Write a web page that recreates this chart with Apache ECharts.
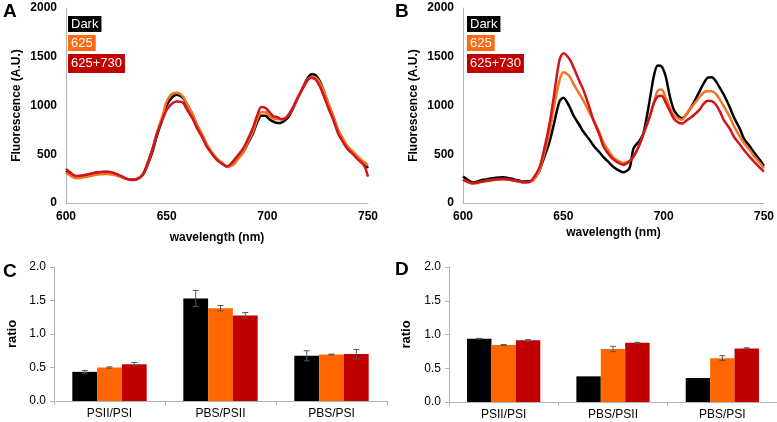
<!DOCTYPE html>
<html><head><meta charset="utf-8">
<script src="https://cdn.jsdelivr.net/npm/echarts@6/dist/echarts.min.js"></script>
<style>html,body{margin:0;padding:0;background:#fff}#c{width:777px;height:422px}</style>
</head><body><div id="c"></div>
<script>
// ---- Data ----
const wavelengths = [600,603,605,608,610,613,615,618,620,623,625,628,630,633,635,638,640,643,645,648,650,653,655,658,660,663,665,668,670,673,675,678,680,683,685,688,690,693,695,697,699,701,703,705,707,709,711,713,715,718,720,722,724,726,728,730,733,735,738,740,743,745,748,750];
const aDark = [330,285,265,268,278,292,302,308,310,303,292,268,250,240,245,285,365,530,680,870,1000,1090,1110,1080,1010,900,800,680,590,500,450,400,375,400,450,520,600,720,830,895,895,860,835,820,825,850,900,980,1070,1200,1280,1320,1310,1250,1150,1030,870,750,630,570,510,465,410,360];
const a625 = [310,270,255,260,268,280,290,295,298,292,282,262,245,238,245,290,375,555,710,900,1040,1125,1130,1095,1020,905,805,690,600,505,455,405,370,390,440,520,610,740,860,930,930,895,865,860,860,870,915,985,1070,1190,1265,1290,1285,1235,1150,1040,880,760,645,580,520,475,420,385];
const a730 = [350,300,278,282,290,305,315,320,322,312,298,270,248,236,240,290,380,560,700,860,955,1025,1040,1030,960,860,770,660,575,490,440,395,375,430,480,560,640,780,900,985,975,935,890,880,860,870,920,990,1080,1190,1260,1285,1265,1200,1100,990,840,720,610,550,490,445,385,270];
const bDark = [272,230,211,225,238,248,255,262,265,255,245,230,221,222,238,330,442,620,782,1037,1080,990,900,800,730,650,590,520,470,410,370,330,315,360,560,640,720,1050,1290,1410,1400,1300,1100,960,900,870,900,960,1030,1150,1230,1285,1290,1250,1180,1110,980,880,760,660,580,520,440,380];
const b625 = [240,210,198,210,220,230,235,240,240,238,232,222,212,215,235,330,470,720,950,1250,1340,1300,1225,1120,1050,930,850,720,620,520,465,425,410,430,475,600,710,880,1020,1150,1165,1080,980,900,870,855,900,960,1010,1090,1135,1145,1145,1120,1060,990,880,790,680,615,540,480,410,355];
const b730 = [240,212,204,212,221,230,238,244,248,240,231,220,211,215,255,360,510,800,1054,1460,1537,1480,1395,1250,1160,980,850,700,580,490,445,405,392,430,476,600,714,880,1020,1090,1100,1030,950,867,830,815,840,870,900,960,1020,1050,1045,1010,940,850,760,680,600,544,470,425,360,323];

const ratioCats = ['PSII/PSI','PBS/PSII','PBS/PSI'];
const cDark = [0.435,1.53,0.675], cDarkErr = [0.02,0.12,0.075];
const c625  = [0.50,1.385,0.695], c625Err  = [0.01,0.04,0.005];
const c730  = [0.55,1.275,0.70], c730Err  = [0.025,0.045,0.07];
const dDark = [0.938,0.38,0.355], dDarkErr = [0.005,0,0];
const d625  = [0.845,0.785,0.65], d625Err  = [0.005,0.04,0.035];
const d730  = [0.913,0.878,0.794], d730Err  = [0.01,0.006,0.008];

const names = ['Dark','625','625+730'];
const lineColors = ['#000000','#F27420','#D0161C'];
const barColors = ['#000000','#FF6600','#C00000'];
const legendColors = ['#000000','#FF6A10','#C00000'];

// ---- Chart ----
const FONT = 'Liberation Sans, Arial, sans-serif';
const axisLineGray = {show:true, lineStyle:{color:'#B4B4B4', width:1}};
const chart = echarts.init(document.getElementById('c'));

function specAxisX(gi, nameGap){
  return {type:'value', gridIndex:gi, min:600, max:750, interval:50,
    name:'wavelength (nm)', nameLocation:'middle', nameGap:nameGap,
    nameTextStyle:{fontFamily:FONT, fontWeight:'bold', fontSize:12, color:'#000'},
    axisLine:axisLineGray, axisTick:{show:false}, splitLine:{show:false},
    axisLabel:{fontFamily:FONT, fontWeight:'bold', fontSize:12, color:'#000', margin:8}};
}
function specAxisY(gi){
  return {type:'value', gridIndex:gi, min:0, max:2000, interval:500,
    name:'Fluorescence (A.U.)', nameLocation:'middle', nameGap:43,
    nameTextStyle:{fontFamily:FONT, fontWeight:'bold', fontSize:12, color:'#000'},
    axisLine:axisLineGray, axisTick:{show:false}, splitLine:{show:false},
    axisLabel:{fontFamily:FONT, fontWeight:'bold', fontSize:12, color:'#000', margin:9,
      formatter:v=>String(v)}};
}
function catAxis(gi){
  return {type:'category', gridIndex:gi, data:ratioCats,
    axisLine:axisLineGray, axisTick:{show:true, length:4, lineStyle:{color:'#B4B4B4'}},
    axisLabel:{fontFamily:FONT, fontSize:12, color:'#000', margin:7}};
}
function ratioAxis(gi, gap){
  return {type:'value', gridIndex:gi, min:0, max:2, interval:0.5,
    name:'ratio', nameLocation:'middle', nameGap:gap,
    nameTextStyle:{fontFamily:FONT, fontWeight:'bold', fontSize:13, color:'#000'},
    axisLine:axisLineGray, axisTick:{show:true, length:4, lineStyle:{color:'#B4B4B4'}},
    splitLine:{show:false},
    axisLabel:{fontFamily:FONT, fontSize:12, color:'#000', margin:8, formatter:v=>v.toFixed(1)}};
}
function lineSeries(gi, arr, k){
  return {type:'line', name:names[k], xAxisIndex:gi, yAxisIndex:gi,
    data: wavelengths.map((w,i)=>[w, arr[i]]), showSymbol:false, smooth:0.3,
    lineStyle:{color:lineColors[k], width:2.5}, itemStyle:{color:lineColors[k]}, z:2+k};
}
function barSeries(gi, arr, k){
  return {type:'bar', name:names[k], xAxisIndex:gi, yAxisIndex:gi, data:arr,
    barGap:'0%', barCategoryGap:'33%', itemStyle:{color:barColors[k]}};
}
function errSeries(gi, vals, errs, k){
  return {type:'custom', xAxisIndex:gi, yAxisIndex:gi, z:10,
    data: vals.map((v,i)=>[i, v, errs[i]]),
    encode:{x:0, y:1},
    renderItem:function(params, api){
      const ci = api.value(0), v = api.value(1), e = api.value(2);
      if (!e) return null;
      const catW = api.size([1,0])[0];
      const bw = catW*(1-0.33)/3;
      const p = api.coord([ci, v]);
      const x = p[0] + (k-1)*bw;
      const yt = api.coord([ci, v+e])[1];
      const yb = api.coord([ci, v-e])[1];
      const st = {stroke:'#555', lineWidth:1};
      return {type:'group', children:[
        {type:'line', shape:{x1:x,y1:yt,x2:x,y2:yb}, style:st},
        {type:'line', shape:{x1:x-3,y1:yt,x2:x+3,y2:yt}, style:st},
        {type:'line', shape:{x1:x-3,y1:yb,x2:x+3,y2:yb}, style:st}
      ]};
    }};
}
function legendSpec(left){
  return {orient:'vertical', left:left, top:11, itemWidth:0, itemHeight:0, itemGap:3,
    selectedMode:false,
    data: names.map((n,k)=>({name:n, icon:'rect',
      textStyle:{color:'#fff', backgroundColor:legendColors[k], fontFamily:FONT, fontSize:13,
        padding: k===2 ? [3,3,3,3] : [2,3,1,3]}}))};
}

const option = {
  animation:false,
  backgroundColor:'#fff',
  grid:[
    {left:66, top:8, width:302, height:195},
    {left:463, top:8, width:301, height:195},
    {left:54, top:267, width:333, height:134},
    {left:449, top:267, width:328, height:135}
  ],
  xAxis:[specAxisX(0,29), specAxisX(1,24), catAxis(2), catAxis(3)],
  yAxis:[specAxisY(0), specAxisY(1), ratioAxis(2,35), ratioAxis(3,36)],
  legend:[legendSpec(58), legendSpec(457)],
  graphic:[
    {type:'text', left:3, top:2, style:{text:'A', font:'bold 19px '+FONT, fill:'#000'}},
    {type:'text', left:395, top:2, style:{text:'B', font:'bold 19px '+FONT, fill:'#000'}},
    {type:'text', left:3, top:262, style:{text:'C', font:'bold 19px '+FONT, fill:'#000'}},
    {type:'text', left:395, top:260, style:{text:'D', font:'bold 19px '+FONT, fill:'#000'}}
  ],
  series:[
    lineSeries(0,aDark,0), lineSeries(0,a625,1), lineSeries(0,a730,2),
    lineSeries(1,bDark,0), lineSeries(1,b625,1), lineSeries(1,b730,2),
    barSeries(2,cDark,0), barSeries(2,c625,1), barSeries(2,c730,2),
    barSeries(3,dDark,0), barSeries(3,d625,1), barSeries(3,d730,2),
    errSeries(2,cDark,cDarkErr,0), errSeries(2,c625,c625Err,1), errSeries(2,c730,c730Err,2),
    errSeries(3,dDark,dDarkErr,0), errSeries(3,d625,d625Err,1), errSeries(3,d730,d730Err,2)
  ]
};
chart.setOption(option);
</script></body></html>
